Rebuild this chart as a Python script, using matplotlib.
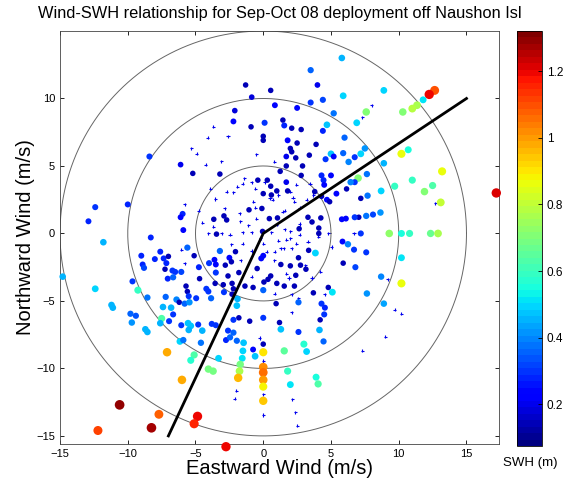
import numpy as np
import matplotlib
matplotlib.use("Agg")
import matplotlib.pyplot as plt

plt.rcParams['font.family'] = ['Liberation Sans', 'DejaVu Sans']

# (east, north, swh) readings, grouped by region of the plot
north_pts = [
    (-8.4, 5.7, 0.3), (-6.1, 5.1, 0.2), (-1.3, 11.0, 0.15), (0.55, 10.6, 0.15),
    (4.0, 11.0, 0.2), (-0.85, 10.1, 0.18), (3.5, 9.7, 0.3), (4.4, 9.9, 0.32),
    (5.9, 10.2, 0.5), (5.8, 13.0, 0.45), (3.5, 12.1, 0.35), (-2.1, 9.1, 0.18),
    (0.86, 9.5, 0.25), (2.5, 9.3, 0.25), (5.2, 8.9, 0.38), (-2.2, 8.3, 0.25),
    (-0.9, 7.9, 0.15), (0.1, 8.2, 0.3), (1.45, 8.4, 0.15), (1.55, 8.0, 0.28),
    (2.1, 7.8, 0.15), (2.8, 7.7, 0.15), (4.7, 8.05, 0.47), (4.4, 7.6, 0.28),
    (6.0, 7.1, 0.35), (0.0, 7.2, 0.15), (0.0, 6.9, 0.15), (1.8, 6.9, 0.25),
    (2.5, 6.7, 0.15), (3.9, 6.6, 0.15), (2.0, 6.3, 0.15), (2.1, 6.05, 0.15),
    (1.7, 5.7, 0.2), (2.4, 5.6, 0.15), (3.4, 5.8, 0.15), (5.0, 5.9, 0.47),
    (4.6, 5.5, 0.3), (5.2, 5.7, 0.25), (6.3, 5.3, 0.4), (1.7, 5.0, 0.15),
    (2.9, 5.0, 0.15), (5.9, 5.95, 0.35),
]

northeast_pts = [
    (8.9, 10.6, 0.5), (12.65, 10.6, 1.1), (12.25, 10.3, 1.2), (11.8, 9.9, 0.52),
    (11.35, 9.5, 0.76), (11.0, 9.25, 0.78), (10.3, 9.0, 0.7), (7.6, 9.0, 0.7),
    (6.9, 8.2, 0.5), (7.5, 6.3, 0.42), (7.2, 5.9, 0.5), (6.75, 5.65, 0.3),
    (10.2, 5.9, 0.86), (10.7, 6.2, 0.55), (8.9, 5.2, 0.45), (13.2, 4.6, 0.87),
    (7.0, 4.1, 0.7), (7.65, 4.4, 0.38), (6.75, 3.8, 0.3), (9.7, 3.5, 0.6),
    (11.0, 3.95, 0.6), (12.5, 3.55, 0.62), (11.9, 3.1, 0.7), (13.1, 2.3, 0.8),
    (8.7, 3.15, 0.5), (7.7, 2.8, 0.38), (7.2, 2.6, 0.15), (8.65, 1.55, 0.42),
    (8.1, 1.4, 0.32), (7.6, 1.3, 0.38), (7.05, 1.2, 0.15), (6.75, 1.2, 0.3),
    (9.3, 0.0, 0.72), (10.2, 0.0, 0.55), (10.8, 0.0, 0.6), (12.35, 0.0, 0.66),
    (12.9, 0.0, 0.76), (7.2, 0.0, 0.3), (6.7, -1.2, 0.3), (7.6, -1.4, 0.3),
    (10.2, -1.8, 0.52), (6.8, -2.5, 0.32), (8.7, -3.2, 0.4), (10.2, -3.7, 0.86),
    (7.65, -4.45, 0.42), (8.9, -5.2, 0.43), (17.2, 3.0, 1.22),
]

west_pts = [
    (-5.2, 4.45, 0.15), (-10.0, 2.15, 0.28), (-12.4, 1.95, 0.3), (-12.9, 0.9, 0.27),
    (-5.95, 1.45, 0.27), (-6.1, 1.2, 0.25), (-5.9, 0.25, 0.25), (-11.8, -0.65, 0.45),
    (-8.3, -0.3, 0.27), (-5.6, -1.05, 0.35), (-5.1, -1.65, 0.15), (-9.0, -1.65, 0.27),
    (-7.6, -1.35, 0.27), (-8.0, -1.9, 0.27), (-7.35, -1.85, 0.27), (-7.0, -1.7, 0.15),
    (-7.15, -2.2, 0.28), (-8.9, -2.3, 0.27), (-8.8, -2.55, 0.32), (-7.25, -2.65, 0.15),
    (-6.7, -2.75, 0.3), (-6.5, -2.85, 0.3), (-6.05, -2.85, 0.32), (-4.75, -2.5, 0.28),
    (-7.05, -3.35, 0.27), (-6.65, -3.25, 0.35), (-4.7, -3.35, 0.15), (-9.65, -3.55, 0.3),
    (-14.8, -3.2, 0.45), (-12.4, -4.1, 0.5), (-9.25, -4.2, 0.6), (-5.7, -3.9, 0.15),
    (-5.6, -4.3, 0.15), (-5.5, -4.65, 0.3), (-8.55, -4.75, 0.37), (-7.2, -4.7, 0.35),
    (-6.4, -4.9, 0.4), (-6.2, -5.1, 0.15), (-5.8, -5.2, 0.35), (-5.45, -5.1, 0.42),
    (-4.95, -4.8, 0.3), (-11.2, -5.3, 0.45), (-11.1, -5.5, 0.45), (-7.4, -5.45, 0.45),
    (-6.8, -5.5, 0.45),
]

southwest_pts = [
    (-9.8, -5.95, 0.35), (-9.4, -6.1, 0.33), (-9.7, -6.6, 0.42), (-8.7, -7.1, 0.45),
    (-8.55, -7.3, 0.45), (-7.5, -6.3, 0.62), (-7.6, -6.65, 0.45), (-6.95, -6.5, 0.3),
    (-6.65, -6.0, 0.3), (-6.05, -6.8, 0.3), (-5.55, -6.65, 0.48), (-5.35, -6.85, 0.48),
    (-4.8, -6.75, 0.3), (-5.5, -7.15, 0.45), (-6.15, -8.0, 0.5), (-5.9, -7.9, 0.38),
    (-7.1, -8.8, 0.97), (-5.1, -9.0, 0.62), (-5.35, -9.4, 0.58), (-6.0, -10.85, 0.98),
    (-10.6, -12.7, 1.3), (-7.7, -13.4, 1.08), (-8.25, -14.4, 1.28), (-12.2, -14.6, 1.12),
    (-4.85, -13.55, 1.2), (-5.1, -14.1, 1.15),
]

south_pts = [
    (0.0, -6.25, 0.3), (-1.0, -6.5, 0.15), (-1.8, -6.25, 0.15), (-2.2, -6.4, 0.3),
    (-3.8, -6.7, 0.3), (-3.5, -6.8, 0.3), (-4.5, -7.2, 0.45), (-2.6, -7.2, 0.3),
    (-2.2, -7.35, 0.35), (-2.75, -7.9, 0.28), (-2.45, -7.7, 0.35), (-1.95, -7.95, 0.35),
    (-1.45, -8.1, 0.48), (-4.6, -8.1, 0.38), (-0.75, -8.6, 0.25), (-1.5, -8.7, 0.5),
    (-1.55, -9.25, 0.52), (-0.6, -9.1, 0.48), (-3.3, -9.25, 0.5), (0.0, -8.2, 0.15),
    (0.0, -8.8, 0.9), (0.0, -9.9, 1.02), (0.0, -10.3, 1.05), (0.0, -10.85, 1.0),
    (0.0, -11.35, 0.88), (0.0, -12.4, 0.94), (-1.7, -9.7, 0.68), (-1.75, -10.2, 0.76),
    (-1.85, -10.7, 0.96), (-4.05, -10.05, 0.68), (-3.7, -10.2, 0.68), (-2.75, -15.8, 1.2),
    (1.2, -6.6, 0.15), (1.3, -7.1, 0.48), (2.6, -7.3, 0.3), (1.55, -8.7, 0.65),
    (1.8, -10.2, 0.6), (2.0, -11.2, 0.52), (3.0, -8.2, 0.58), (3.2, -8.75, 0.5),
    (3.9, -10.65, 0.55), (4.05, -11.15, 0.62), (4.15, -7.15, 0.45), (4.2, -6.4, 0.15),
    (4.45, -8.0, 0.35), (4.5, -6.0, 0.3),
]

centre_pts = [
    (-3.2, 4.4, 0.15), (-0.4, 3.95, 0.15), (0.3, 3.95, 0.15), (0.0, 2.95, 0.15),
    (0.55, 3.5, 0.15), (0.6, 2.85, 0.15), (1.0, 3.15, 0.15), (1.7, 3.8, 0.2),
    (1.8, 3.15, 0.15), (1.25, 4.6, 0.15), (2.8, 4.3, 0.15), (3.8, 3.1, 0.15),
    (4.3, 4.3, 0.28), (4.45, 3.95, 0.28), (4.5, 3.6, 0.25), (5.0, 4.3, 0.25),
    (4.3, 2.75, 0.15), (4.7, 2.5, 0.25), (5.4, 2.95, 0.25), (4.9, 2.35, 0.15),
    (6.45, 3.8, 0.4), (6.15, 3.3, 0.15), (5.8, 1.05, 0.25), (6.1, 1.1, 0.25),
    (-1.05, 1.75, 0.15), (-0.1, 1.85, 0.15), (-0.05, 0.15, 0.15), (-2.9, 1.3, 0.15),
    (-2.7, 1.0, 0.15), (-3.65, 1.05, 0.15), (-3.45, -0.05, 0.15), (1.05, 1.15, 0.15),
    (0.45, 1.1, 0.15), (3.3, 1.2, 0.15), (3.6, 0.85, 0.15), (4.25, 1.15, 0.15),
    (4.1, 0.4, 0.15), (4.1, 0.0, 0.15), (2.65, 0.35, 0.15), (3.35, -1.25, 0.15),
    (3.85, -1.45, 0.5), (2.6, -1.8, 0.15), (5.85, -0.6, 0.25), (6.25, -0.8, 0.4),
    (5.9, -2.2, 0.15), (-3.2, -1.3, 0.35), (-3.6, -1.95, 0.25), (-3.5, -2.3, 0.25),
    (-4.0, -2.2, 0.3), (-2.5, -1.8, 0.25), (-2.35, -2.1, 0.15), (-2.8, -2.35, 0.15),
    (-2.05, -1.35, 0.15), (-0.15, -1.85, 0.25), (0.0, -1.65, 0.25), (-0.45, -2.6, 0.15),
    (-1.8, -2.9, 0.15), (-2.6, -3.15, 0.15), (-3.5, -2.9, 0.3), (-3.55, -3.7, 0.15),
    (-2.95, -3.8, 0.15), (-2.3, -3.7, 0.15), (-4.2, -4.1, 0.3), (-4.05, -4.3, 0.3),
    (-3.85, -4.8, 0.35), (-2.9, -4.35, 0.3), (-2.2, -4.1, 0.15), (-2.3, -4.5, 0.15),
    (-1.35, -3.9, 0.15), (-0.75, -4.0, 0.15), (0.05, -3.6, 0.15), (0.55, -3.15, 0.15),
    (0.35, -3.4, 0.15), (0.0, -4.2, 0.35), (1.3, -2.3, 0.15), (2.0, -2.4, 0.15),
    (2.75, -2.35, 0.15), (3.15, -2.65, 0.15), (1.0, -3.7, 0.15), (1.55, -3.9, 0.15),
    (2.3, -3.9, 0.15), (2.4, -3.1, 0.15), (0.95, -5.2, 0.15), (2.6, -5.1, 0.35),
    (3.7, -4.4, 0.15), (4.8, -4.0, 0.15), (5.1, -4.35, 0.52), (4.3, -5.2, 0.3),
    (4.55, -5.5, 0.28), (-1.9, -4.85, 0.45), (-1.95, -5.35, 0.48),
]

# light-wind records drawn as small crosses (swh ~0.2)
calm_east = [
    -5.3, -4.9, -3.7, -4.1, -2.6, -0.5, -4.25, -3.1, 0.8, 8.0, 7.3, 12.7, 9.2, 9.7,
    10.2, 9.0, 7.3, 6.7, -5.8, -4.75, -6.05, -5.8, -0.25, 0.0, 0.0, 0.0, 0.0, -2.0,
    -2.1, 2.1, 2.0, 2.15, 2.35, 2.5, 3.9, -3.9, -2.7, -2.2, -1.9, -1.5, -1.4, -0.85,
    -0.6, 0.1, 0.5, 0.7, 1.1, 1.45, 1.6, 2.0, 2.2, 2.3, 2.45, 3.45, 3.2, 3.7, 2.7,
    -3.55, -2.85, -1.75, -1.7, -0.85, -0.5, -0.75, -0.6, -4.5, -4.05, -3.05, -2.45,
    -1.5, 0.6, 1.0, 1.6, 2.0, 2.0, 2.7, 2.45, 1.7, 1.5, 0.85, -1.5, -2.35, -1.65,
    -0.85, 0.25, 0.8, 1.3, 2.1, 2.7, 3.3, 4.05, 4.8, 5.05, 3.1, 1.9, 1.7, 0.85, 2.1,
    2.6, 3.6, 4.2, 4.55, -3.7, -1.1, -0.2, 1.1, -0.85, 0.0,
]
calm_north = [
    6.3, 5.9, 7.9, 7.1, 7.2, 5.85, 5.1, 5.35, 5.3, 9.5, 8.6, 2.25, -3.4, -5.65,
    -5.95, -7.65, -8.7, 0.0, 2.15, 1.7, -1.2, -2.2, -7.75, -9.45, -9.9, -11.9, -13.45,
    -11.65, -12.25, -5.85, -11.2, -12.3, -13.25, -14.25, -10.65, 3.3, 3.1, 3.05, 3.45,
    3.7, 4.1, 3.8, 3.3, 3.8, 2.6, 2.5, 2.85, 1.6, 1.7, 3.1, 2.65, 2.35, 3.6, 3.7, 2.5,
    2.85, 1.9, 2.55, 1.85, 1.5, 0.9, 0.1, 1.1, 2.35, 1.9, 0.8, 0.0, 0.0, -0.1, 0.1,
    0.1, 0.65, 0.3, 0.15, -0.35, 0.7, -0.75, -0.45, -1.1, -1.35, -0.75, -0.8, -2.0,
    -3.2, -1.35, -2.0, -1.1, -1.1, -0.1, -0.6, -0.25, 0.0, -1.0, -2.35, -3.3, -3.0,
    -4.45, -4.5, -4.8, -3.3, -2.85, -4.5, 0.5, 0.6, -0.35, -0.55, -1.3, -0.75,
]
calm_swh = 0.2

# regression-like wind/SWH guide line
guide_east = [-7, 0, 15]
guide_north = [-15, 0, 10]
ring_radii = [5, 10, 15]

x_ticks = [-15, -10, -5, 0, 5, 10, 15]
y_ticks = [-15, -10, -5, 0, 5, 10]
cbar_ticks = [0.2, 0.4, 0.6, 0.8, 1.0, 1.2]
cbar_labels = ['0.2', '0.4', '0.6', '0.8', '1', '1.2']

all_pts = north_pts + northeast_pts + west_pts + southwest_pts + south_pts + centre_pts
east = np.array([p[0] for p in all_pts])
north = np.array([p[1] for p in all_pts])
swh = np.array([p[2] for p in all_pts])

cmap = plt.get_cmap('jet', 64)
vmin, vmax = 0.075, 1.32

fig = plt.figure(figsize=(5.64, 4.84), dpi=100)
ax = fig.add_axes([60 / 564, 1 - 444 / 484, 439 / 564, 413 / 484])

th = np.linspace(0, 2 * np.pi, 400)
for r in ring_radii:
    ax.plot(r * np.cos(th), r * np.sin(th), color='#666666', lw=0.7, zorder=1)

ax.scatter(calm_east, calm_north, c=[calm_swh] * len(calm_east), cmap=cmap,
           vmin=vmin, vmax=vmax, marker='+', s=5, linewidths=0.8, zorder=2)

diam_px = 5.0 + 3.6 * swh
sizes = (diam_px * 0.72) ** 2
sc = ax.scatter(east, north, c=swh, s=sizes, cmap=cmap, vmin=vmin, vmax=vmax,
                linewidths=0, zorder=3, clip_on=False)

ax.plot(guide_east, guide_north, color='black', lw=2, zorder=4)

ax.set_xlim(-15.0, 17.4)
ax.set_ylim(-15.6, 15.0)
ax.set_xticks(x_ticks)
ax.set_yticks(y_ticks)
ax.tick_params(direction='in', top=True, right=True, labelsize=8, length=3, width=0.6)
for s in ax.spines.values():
    s.set_linewidth(0.6)
    s.set_color('#444444')

ax.set_xlabel('Eastward Wind (m/s)', fontsize=14.5, labelpad=0)
ax.set_ylabel('Northward Wind (m/s)', fontsize=14.5, labelpad=1)
fig.text(0.497, 0.972, 'Wind-SWH relationship for Sep-Oct 08 deployment off Naushon Isl',
         ha='center', va='center', fontsize=11.8)

cax = fig.add_axes([517 / 564, 1 - 446 / 484, 25 / 564, 415 / 484])
cb = fig.colorbar(sc, cax=cax, ticks=cbar_ticks)
cb.ax.set_yticklabels(cbar_labels)
cb.ax.tick_params(direction='in', labelsize=8.5, length=3, width=0.6)
cb.outline.set_linewidth(0.6)
fig.text(530 / 564, 1 - 463 / 484, 'SWH (m)', ha='center', va='center', fontsize=9.5)

fig.savefig('out.png', dpi=100)
